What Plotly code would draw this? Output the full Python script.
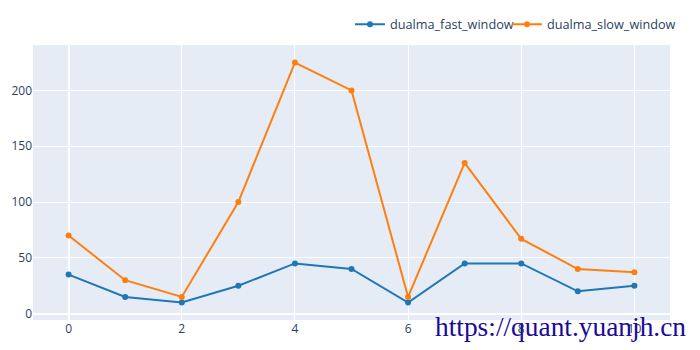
import plotly.graph_objects as go

x_index = list(range(11))
fast_window = [35, 15, 10, 25, 45, 40, 10, 45, 45, 20, 25]
slow_window = [70, 30, 15, 100, 225, 200, 15, 135, 67, 40, 37]
series_names = ["dualma_fast_window", "dualma_slow_window"]
watermark = "https://quant.yuanjh.cn"

fig = go.Figure()
fig.add_trace(go.Scatter(x=x_index, y=fast_window, mode="lines+markers", name=series_names[0],
                         line=dict(color="#1f77b4", width=2), marker=dict(size=6),
                         legendwidth=112))
fig.add_trace(go.Scatter(x=x_index, y=slow_window, mode="lines+markers", name=series_names[1],
                         line=dict(color="#ff7f0e", width=2), marker=dict(size=6),
                         legendwidth=180))

fig.update_layout(
    template="plotly",
    width=700, height=350,
    margin=dict(l=33, r=30, t=45, b=30, autoexpand=False),
    font=dict(family="Open Sans", size=12, color="#2a3f5f"),
    legend=dict(orientation="h", x=0.4976, xanchor="left", y=1.02, yanchor="bottom",
                font=dict(size=12.7)),
    annotations=[dict(text=watermark, xref="paper", yref="paper", x=0.6285, y=-0.025,
                      xanchor="left", yanchor="middle", showarrow=False,
                      font=dict(family="Liberation Serif", size=27.4, color="#1a0a9c"))],
)
fig.update_xaxes(tickmode="linear", tick0=0, dtick=2)
fig.update_yaxes(tickmode="linear", tick0=0, dtick=50)

fig.write_html("out.html")
